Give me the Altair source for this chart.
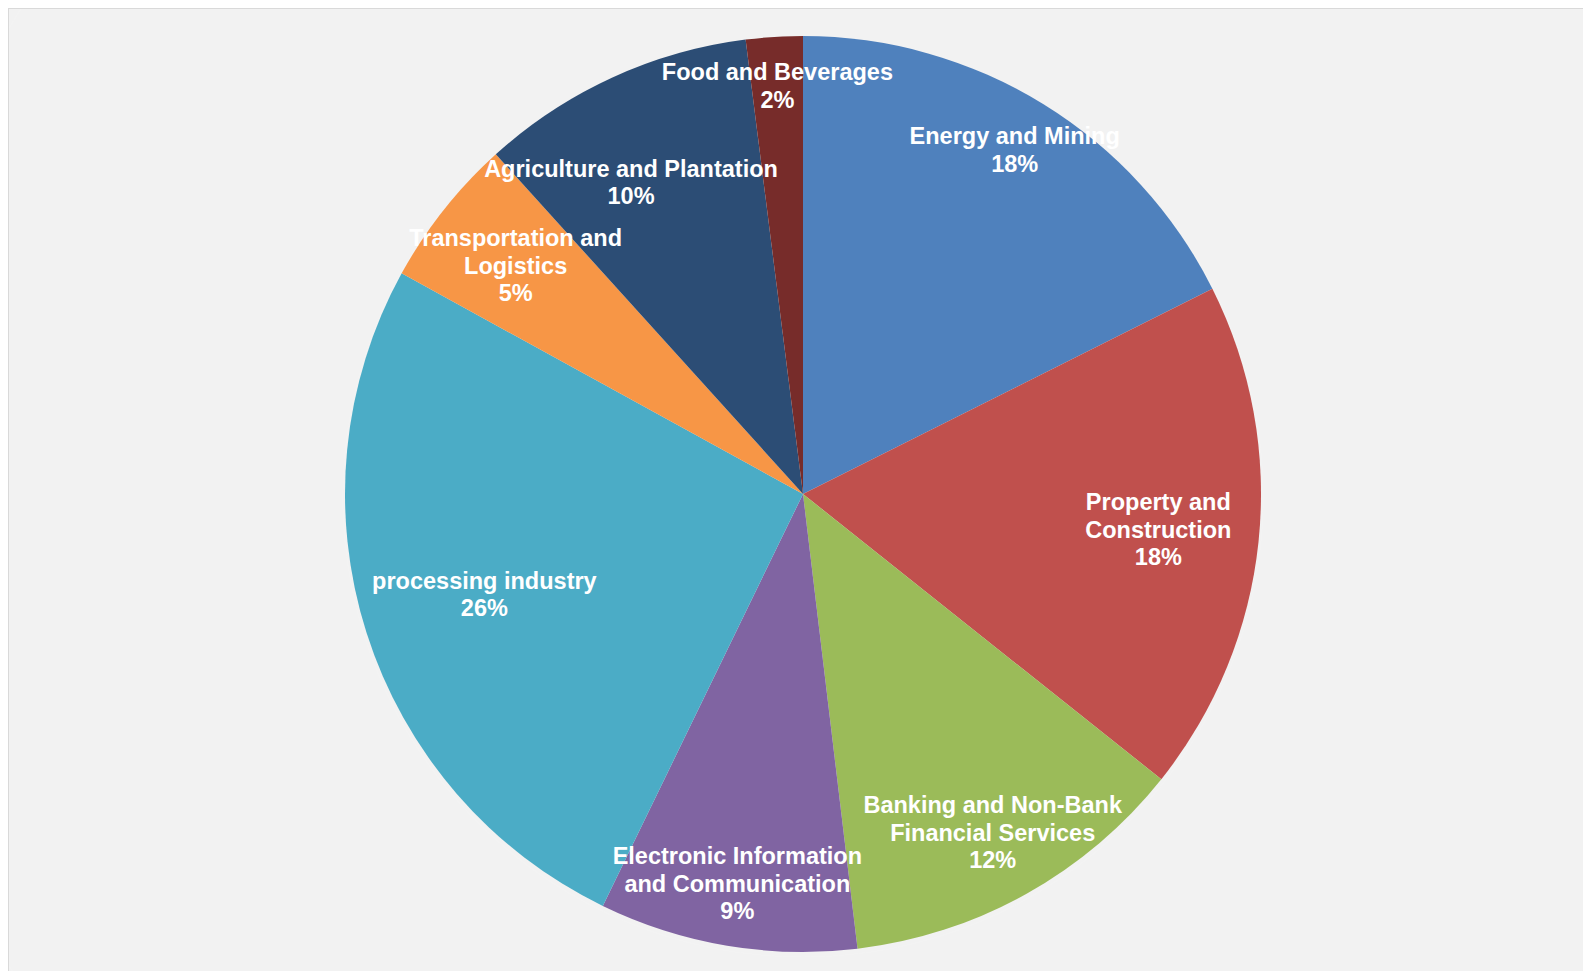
import altair as alt
import pandas as pd

# ---- data ----
categories = [
    "Energy and Mining",
    "Property and Construction",
    "Banking and Non-Bank Financial Services",
    "Electronic Information and Communication",
    "processing industry",
    "Transportation and Logistics",
    "Agriculture and Plantation",
    "Food and Beverages",
]
values = [17.6, 18.1, 12.4, 9.1, 25.8, 5.3, 9.7, 2.0]
label_lines = [
    "Energy and Mining",
    "Property and\nConstruction",
    "Banking and Non-Bank\nFinancial Services",
    "Electronic Information\nand Communication",
    "processing industry",
    "Transportation and\nLogistics",
    "Agriculture and Plantation",
    "Food and Beverages",
]
colors = ["#4F81BD", "#C0504D", "#9BBB59", "#8064A2", "#4BACC6", "#F79646", "#2C4D75", "#772C2A"]

# ---- layout / style ----
W, H = 1575, 963
CX, CY = 795, 486
R = 458
TAU = 6.283185307179586
LH = 27.5
# label placement: fraction of radius, and angular nudge (in value units)
label_r = {
    "Energy and Mining": 0.88,
    "Property and Construction": 0.78,
    "Banking and Non-Bank Financial Services": 0.85,
    "Electronic Information and Communication": 0.865,
    "processing industry": 0.73,
    "Transportation and Logistics": 0.80,
    "Agriculture and Plantation": 0.775,
    "Food and Beverages": 0.89,
}
label_nudge = {"Agriculture and Plantation": -1.2}

total = sum(values)
df = pd.DataFrame({"category": categories, "value": values, "idx": list(range(len(categories)))})
df["text"] = [f"{l}\n{round(v)}%" for l, v in zip(label_lines, values)]
df["nlines"] = df["text"].str.count("\n") + 1
df["lr"] = [label_r[c] * R for c in categories]
df["nudge"] = [label_nudge.get(c, 0.0) for c in categories]

theta_scale = alt.Scale(domain=[0, total], range=[0, TAU])

base = alt.Chart(df).transform_window(
    cum="sum(value)", sort=[alt.SortField("idx", order="ascending")]
).transform_calculate(
    start="datum.cum - datum.value",
    mid="datum.cum - datum.value / 2 + datum.nudge",
)

pie = base.mark_arc(x=CX, y=CY, outerRadius=R).encode(
    theta=alt.Theta("start:Q", scale=theta_scale),
    theta2="cum:Q",
    color=alt.Color("category:N", scale=alt.Scale(domain=categories, range=colors), legend=None),
)

label_layers = []
for n in sorted(set(df["nlines"])):
    label_layers.append(
        base.transform_filter(f"datum.nlines == {n}").mark_text(
            x=CX, y=CY, dy=-(n - 1) * LH / 2,
            font="Liberation Sans", fontSize=23.5, fontWeight="bold",
            color="white", lineBreak="\n", lineHeight=LH, align="center", baseline="middle",
        ).encode(
            theta=alt.Theta("mid:Q", scale=theta_scale),
            text="text:N",
            radius=alt.Radius("lr:Q", scale=None),
        )
    )

rings = pd.DataFrame({"r": [R + k for k in (2, 4, 6, 8, 10, 12, 14)]})
shadow = alt.Chart(rings).mark_arc(
    x=CX, y=CY + 3, theta=0, theta2=TAU, color="black", opacity=0.025
).encode(radius=alt.Radius("r:Q", scale=None))

dummy = pd.DataFrame({"a": [0]})
top_border = alt.Chart(dummy).mark_rule(color="#d9d9d9", strokeWidth=2).encode(
    x=alt.value(0), x2=alt.value(W), y=alt.value(0)
)
left_border = alt.Chart(dummy).mark_rule(color="#d9d9d9", strokeWidth=2).encode(
    x=alt.value(0), y=alt.value(0), y2=alt.value(H)
)

chart = alt.layer(shadow, pie, *label_layers, top_border, left_border).properties(
    width=W, height=H, padding=0, background="#f8f8f8",
    autosize=alt.AutoSizeParams(type="none"),
).configure_view(stroke=None)

chart.save("out.html", embed_options={"renderer": "svg", "actions": False})
